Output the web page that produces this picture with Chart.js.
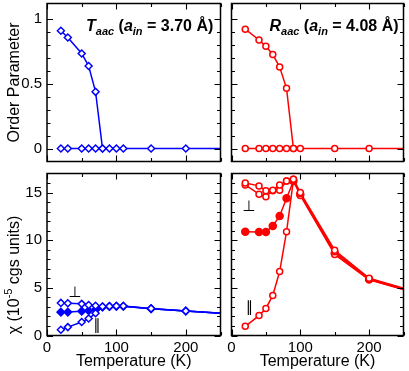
<!DOCTYPE html>
<html><head><meta charset="utf-8">
<script src="https://cdn.jsdelivr.net/npm/chart.js@4"></script>
<style>
html,body{margin:0;padding:0;background:#fff;overflow:hidden}
#wrap{position:relative;width:409px;height:371px;overflow:hidden;background:#fff}
canvas{position:absolute;display:block}
</style></head><body>
<div id="wrap">
<canvas id="tl" width="226" height="169" style="left:0;top:-2px"></canvas>
<canvas id="tr" width="183" height="169" style="left:226px;top:-2px"></canvas>
<canvas id="bl" width="226" height="203" style="left:0;top:168px"></canvas>
<canvas id="br" width="183" height="203" style="left:226px;top:168px"></canvas>
</div>
<script>
// ---------- DATA ----------
// Top-left: T_aac order parameter
const taacOrderTemp = [20, 30, 50, 60, 70, 80];
const taacOrderValue = [0.91, 0.857, 0.734, 0.637, 0.438, 0];
const taacZeroTemp = [20, 30, 50, 60, 70, 80, 90, 100, 110, 150, 200, 300];
const taacZeroValue = [0, 0, 0, 0, 0, 0, 0, 0, 0, 0, 0, 0];

// Top-right: R_aac order parameter
const raacOrderTemp = [20, 40, 50, 60, 70, 80, 90];
const raacOrderValue = [0.922, 0.838, 0.789, 0.726, 0.630, 0.465, 0];
const raacZeroTemp = [20, 40, 50, 60, 70, 80, 90, 100, 150, 200, 300];
const raacZeroValue = [0, 0, 0, 0, 0, 0, 0, 0, 0, 0, 0];

// Bottom-left: susceptibility, T_aac
const taacChiTemp = [20, 30, 50, 60, 70, 80, 90, 100, 110, 150, 200, 300];
const taacChiPerp = [3.42, 3.38, 3.32, 3.2, 3.12, 3.04, 3.06, 3.09, 3.09, 2.83, 2.58, 2.1];
const taacChiAvg  = [2.45, 2.46, 2.55, 2.6, 2.72, 3.0, 3.05, 3.07, 3.07, 2.81, 2.57, 2.1];
const taacChiPar  = [0.6, 0.88, 1.41, 1.78, 2.33, 2.98, 3.04, 3.06, 3.06, 2.8, 2.56, 2.1];

// Bottom-right: susceptibility, R_aac
const raacChiTemp  = [20, 40, 50, 60, 70, 80, 90, 100, 150, 200, 300];
const raacChiPerpA = [16.0, 15.7, 15.2, 15.25, 15.8, 16.2, 16.4, 15.0, 8.95, 6.02, 3.9];
const raacChiPerpB = [15.8, 14.83, 14.56, 15.2, 15.24, 16.2, 16.4, 14.9, 8.8, 5.95, 3.85];
const raacChiAvg   = [10.88, 10.85, 10.85, 11.5, 12.54, 14.4, 16.2, 14.8, 8.62, 5.9, 3.8];
const raacChiPar   = [0.96, 2.09, 2.84, 4.21, 6.71, 10.9, 16.3, 14.7, 8.5, 5.85, 3.78];

// Tick values
const tempTickLabels = [0, 100, 200];
const tempMinorTicks = [50, 150, 250];
const orderTickLabels = [0, 0.5, 1];
const orderMinorTicks = [0.1, 0.2, 0.3, 0.4, 0.6, 0.7, 0.8, 0.9];
const chiTickLabels = [0, 5, 10, 15];
const chiMinorTicks = [1, 2, 3, 4, 6, 7, 8, 9, 11, 12, 13, 14, 16];

// ---------- STYLE ----------
const FAM = '"Liberation Sans", Arial, Helvetica, sans-serif';
const BLUE = '#0000ff', RED = '#ff0000';

function pts(xs, ys) { return xs.map((x, i) => ({ x: x, y: ys[i] })); }
function ds(xs, ys, color, shape, filled, r) {
  return {
    data: pts(xs, ys), borderColor: color, backgroundColor: filled ? color : '#fff',
    pointBorderColor: color, pointBackgroundColor: filled ? color : '#fff',
    pointStyle: shape, pointRadius: r, pointBorderWidth: 1.5, borderWidth: 1.5,
    tension: 0, clip: 0
  };
}

function drawParts(ctx, parts, x, y) {
  let cx = x;
  for (const p of parts) {
    ctx.font = p.font;
    ctx.fillText(p.t, cx, y + (p.dy || 0));
    cx += ctx.measureText(p.t).width;
  }
  return cx - x;
}
function partsWidth(ctx, parts) {
  let w = 0;
  for (const p of parts) { ctx.font = p.font; w += ctx.measureText(p.t).width; }
  return w;
}

const decor = {
  id: 'decor',
  afterDraw(chart, _a, o) {
    const { ctx, chartArea: a } = chart;
    const xs = chart.scales.x, ys = chart.scales.y;
    ctx.save();
    ctx.strokeStyle = '#000';
    ctx.lineWidth = 1.1;
    ctx.beginPath();
    const vt = (v, len) => { const px = Math.round(xs.getPixelForValue(v)) + 0.5; ctx.moveTo(px, a.bottom); ctx.lineTo(px, a.bottom - len); ctx.moveTo(px, a.top); ctx.lineTo(px, a.top + len); };
    const ht = (v, len) => { const py = Math.round(ys.getPixelForValue(v)) + 0.5; ctx.moveTo(a.left, py); ctx.lineTo(a.left + len, py); ctx.moveTo(a.right, py); ctx.lineTo(a.right - len, py); };
    (o.xMajor || []).forEach(v => vt(v, 6));
    (o.xMinor || []).forEach(v => vt(v, 3.5));
    (o.yMajor || []).forEach(v => ht(v, 6));
    (o.yMinor || []).forEach(v => ht(v, 3.5));
    ctx.stroke();
    ctx.lineWidth = 1.5;
    ctx.strokeRect(a.left, a.top, a.right - a.left, a.bottom - a.top);
    ctx.fillStyle = '#000';
    ctx.textAlign = 'center';
    ctx.textBaseline = 'middle';
    (o.symbols || []).forEach(s => {
      ctx.font = '15px "DejaVu Sans", sans-serif';
      ctx.fillText(s.t, xs.getPixelForValue(s.x), ys.getPixelForValue(s.y));
    });
    if (o.title) {
      ctx.textAlign = 'left';
      ctx.textBaseline = 'alphabetic';
      drawParts(ctx, o.title.parts, a.left + o.title.dx, a.top + o.title.dy);
    }
    if (o.ytitle) {
      ctx.textAlign = 'left';
      ctx.textBaseline = 'alphabetic';
      const w = partsWidth(ctx, o.ytitle.parts);
      ctx.translate(o.ytitle.x, o.ytitle.cy);
      ctx.rotate(-Math.PI / 2);
      drawParts(ctx, o.ytitle.parts, -w / 2, 0);
    }
    ctx.restore();
  }
};

const B16 = 'bold 16px ' + FAM, BI16 = 'italic bold 16px ' + FAM, BI11 = 'italic bold 11px ' + FAM;

function noPad(s) { s.paddingTop = 0; s.paddingBottom = 0; s.paddingLeft = 0; s.paddingRight = 0; }

function yScale(min, max, labels, withLabels, title) {
  return {
    type: 'linear', min: min, max: max, display: withLabels,
    afterBuildTicks: s => { s.ticks = labels.map(v => ({ value: v })); },
    afterFit: s => { if (withLabels) s.width = 47; else s.width = 0; noPad(s); },
    grid: { display: false, drawTicks: false }, border: { display: false },
    ticks: { padding: 5, font: { family: FAM, size: 15 }, color: '#000', callback: v => String(v) },
    title: title ? { display: true, text: title, font: { family: FAM, size: 16 }, color: '#000', padding: { top: 5, bottom: 0 } } : { display: false }
  };
}
function xScale(withLabels) {
  return {
    type: 'linear', min: 0, max: 250, display: withLabels,
    afterBuildTicks: s => { s.ticks = tempTickLabels.map(v => ({ value: v })); },
    afterFit: s => { s.height = withLabels ? 35.5 : 0; noPad(s); },
    grid: { display: false, drawTicks: false }, border: { display: false },
    ticks: { padding: 3, font: { family: FAM, size: 15 }, color: '#000', maxRotation: 0, callback: v => String(v) },
    title: { display: true, text: 'Temperature (K)', font: { family: FAM, size: 16 }, color: '#000', padding: { top: 0, bottom: 0 } }
  };
}
function make(id, datasets, scales, padding, decorOpts) {
  return new Chart(document.getElementById(id), {
    type: 'line',
    data: { datasets: datasets },
    plugins: [decor],
    options: {
      responsive: false, maintainAspectRatio: false, animation: false, events: [],
      layout: { padding: padding },
      plugins: { legend: { display: false }, tooltip: { enabled: false }, decor: decorOpts },
      scales: scales
    }
  });
}

make('tl', [
  ds(taacOrderTemp, taacOrderValue, BLUE, 'rectRot', false, 3.5),
  ds(taacZeroTemp, taacZeroValue, BLUE, 'rectRot', false, 3.5)
], { x: xScale(false), y: yScale(-0.1, 1.12, orderTickLabels, true, 'Order Parameter') },
{ left: 0, right: 3, top: 0, bottom: 0.5 },
{ xMajor: tempTickLabels, xMinor: tempMinorTicks, yMajor: orderTickLabels, yMinor: orderMinorTicks,
  title: { dx: 39, dy: 27, parts: [
    { t: 'T', font: BI16 }, { t: 'aac', font: BI11, dy: 4.5 }, { t: ' (', font: B16 },
    { t: 'a', font: BI16 }, { t: 'in', font: BI11, dy: 4.5 }, { t: ' = 3.70 Å)', font: B16 }] } });

make('tr', [
  ds(raacOrderTemp, raacOrderValue, RED, 'circle', false, 3),
  ds(raacZeroTemp, raacZeroValue, RED, 'circle', false, 3)
], { x: xScale(false), y: yScale(-0.1, 1.12, orderTickLabels, false, null) },
{ left: 5, right: 2, top: 0, bottom: 0.5 },
{ xMajor: tempTickLabels, xMinor: tempMinorTicks, yMajor: orderTickLabels, yMinor: orderMinorTicks,
  title: { dx: 38, dy: 27, parts: [
    { t: 'R', font: BI16 }, { t: 'aac', font: BI11, dy: 4.5 }, { t: ' (', font: B16 },
    { t: 'a', font: BI16 }, { t: 'in', font: BI11, dy: 4.5 }, { t: ' = 4.08 Å)', font: B16 }] } });

make('bl', [
  ds(taacChiTemp, taacChiPerp, BLUE, 'rectRot', false, 3.5),
  ds(taacChiTemp, taacChiPar, BLUE, 'rectRot', false, 3.5),
  ds(taacChiTemp, taacChiAvg, BLUE, 'rectRot', true, 3.8)
], { x: xScale(true), y: yScale(0, 17, chiTickLabels, true, null) },
{ left: 0, right: 3, top: 2.5, bottom: 0 },
{ xMajor: tempTickLabels, xMinor: tempMinorTicks, yMajor: chiTickLabels, yMinor: chiMinorTicks,
  symbols: [{ t: '⊥', x: 40, y: 4.4 }, { t: '∥', x: 72, y: 1.0 }],
  ytitle: { x: 18.5, cy: 107, parts: [
    { t: 'χ (10', font: '16px ' + FAM }, { t: '-5', font: '11px ' + FAM, dy: -6.5 },
    { t: ' cgs units)', font: '16px ' + FAM }] } });

make('br', [
  ds(raacChiTemp, raacChiPerpA, RED, 'circle', false, 3),
  ds(raacChiTemp, raacChiPerpB, RED, 'circle', false, 3),
  ds(raacChiTemp, raacChiPar, RED, 'circle', false, 3),
  ds(raacChiTemp, raacChiAvg, RED, 'circle', true, 3.5)
], { x: xScale(true), y: yScale(0, 17, chiTickLabels, false, null) },
{ left: 5, right: 2, top: 2.5, bottom: 0 },
{ xMajor: tempTickLabels, xMinor: tempMinorTicks, yMajor: chiTickLabels, yMinor: chiMinorTicks,
  symbols: [{ t: '⊥', x: 25, y: 13.5 }, { t: '∥', x: 26, y: 2.9 }] });
</script>
</body></html>
